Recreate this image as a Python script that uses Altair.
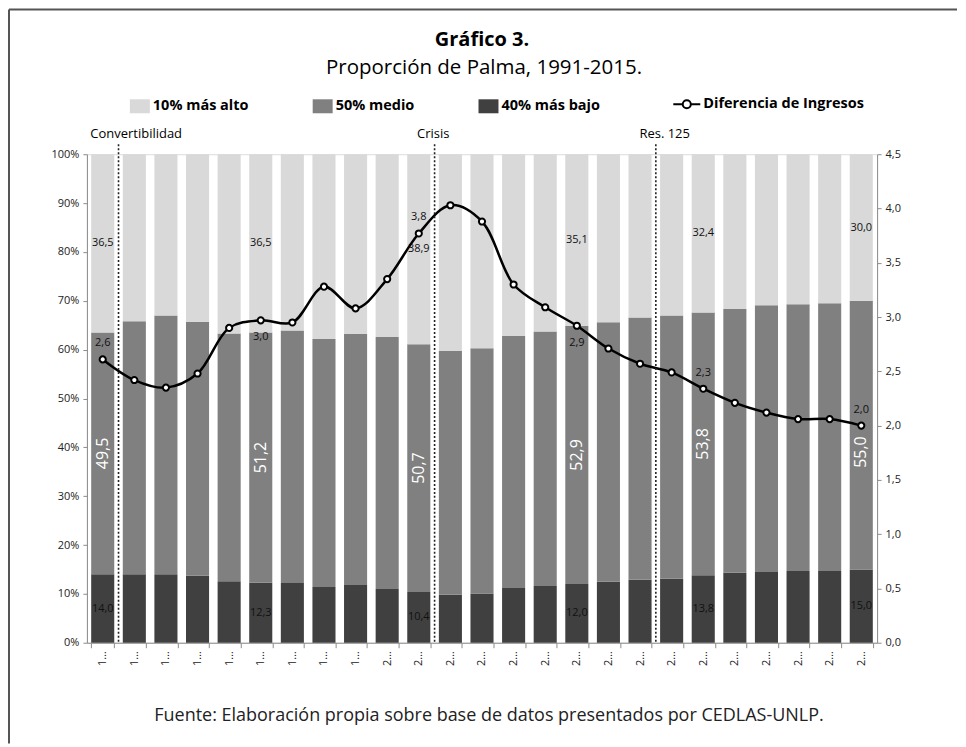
import altair as alt
import pandas as pd

# ---------------- data ----------------
years = [str(y) for y in range(1991, 2016)]
bajo = [14.0, 14.0, 14.0, 13.7, 12.6, 12.3, 12.2, 11.4, 11.8, 11.0, 10.4, 9.8, 10.1,
        11.2, 11.6, 12.0, 12.5, 12.9, 13.1, 13.8, 14.3, 14.5, 14.7, 14.7, 15.0]
alto = [36.5, 34.2, 33.0, 34.3, 36.7, 36.5, 36.1, 37.8, 36.8, 37.4, 38.9, 40.3, 39.7,
        37.2, 36.3, 35.1, 34.4, 33.4, 33.0, 32.4, 31.7, 30.9, 30.7, 30.5, 30.0]
medio = [round(100 - a - b, 1) for a, b in zip(alto, bajo)]
palma = [2.61, 2.42, 2.35, 2.48, 2.90, 2.97, 2.95, 3.28, 3.08, 3.35, 3.77, 4.03, 3.88,
         3.30, 3.09, 2.92, 2.71, 2.57, 2.49, 2.34, 2.21, 2.12, 2.06, 2.06, 2.00]

grupos = ["10% más alto", "50% medio", "40% más bajo"]
colores = ["#D9D9D9", "#808080", "#404040"]
serie_linea = "Diferencia de Ingresos"

label_idx = [0, 5, 10, 15, 19, 24]
line_above = [0, 10, 19, 24]
line_below = [5, 15]

eventos = ["Convertibilidad", "Crisis", "Res. 125"]
evento_year = ["1991", "2001", "2008"]

titulo = "Gráfico 3."
subtitulo = "Proporción de Palma, 1991-2015."
fuente = "Fuente: Elaboración propia sobre base de datos presentados por CEDLAS-UNLP."

def fmt(v):
    return f"{v:.1f}".replace(".", ",")

# ---------------- tables ----------------
rows = []
for i, y in enumerate(years):
    rows.append({"year": y, "grupo": grupos[2], "valor": bajo[i], "ord": 0})
    rows.append({"year": y, "grupo": grupos[1], "valor": medio[i], "ord": 1})
    rows.append({"year": y, "grupo": grupos[0], "valor": alto[i], "ord": 2})
df_bars = pd.DataFrame(rows)

seg_rows = []
for i in label_idx:
    seg_rows.append({"year": years[i], "idx": i, "pos": "bajo", "yc": bajo[i] / 2, "texto": fmt(bajo[i])})
    seg_rows.append({"year": years[i], "idx": i, "pos": "medio", "yc": bajo[i] + medio[i] / 2, "texto": fmt(medio[i])})
    seg_rows.append({"year": years[i], "idx": i, "pos": "alto", "yc": bajo[i] + medio[i] + alto[i] / 2, "texto": fmt(alto[i])})
df_seg = pd.DataFrame(seg_rows)

df_line = pd.DataFrame({"year": years, "palma": palma, "serie": serie_linea})
df_line["texto"] = [fmt(v) for v in palma]
df_line["idx"] = range(len(years))

df_ev = pd.DataFrame({"year": evento_year, "nombre": eventos})

W, H = 791, 489
FONT = "Open Sans"
one = alt.Data(values=[{"a": 1}])
AX = dict(tickSize=4, labelFontSize=11, labelPadding=4, domainColor="#8c8c8c",
          tickColor="#8c8c8c", labelColor="#222", grid=False, labelFont=FONT)

xenc = alt.X("year:N", title=None,
             scale=alt.Scale(paddingInner=0.27, paddingOuter=0.135),
             axis=alt.Axis(labelExpr="datum.label ? substring(datum.label, 0, 1) + '…' : ''",
                           labelAngle=270, tickBand="extent", tickSize=5, labelFontSize=11,
                           labelPadding=3, domainColor="#8c8c8c", tickColor="#8c8c8c",
                           labelColor="#222", labelFont=FONT))

pct_scale = alt.Scale(domain=[0, 100], nice=False)
pct_axis = alt.Axis(orient="left", values=list(range(0, 101, 10)),
                    labelExpr="datum.value + '%'", **AX)
bars = alt.Chart(df_bars).mark_bar().encode(
    x=xenc,
    y=alt.Y("valor:Q", stack="zero", scale=pct_scale, title=None, axis=pct_axis),
    color=alt.Color("grupo:N", scale=alt.Scale(domain=grupos, range=colores),
                    legend=alt.Legend(orient="none", legendX=43, legendY=-58, direction="horizontal",
                                      title=None, symbolType="M-1,-0.7H1V0.7H-1Z", symbolSize=400,
                                      symbolStrokeWidth=0, labelFontSize=14.5, labelFontWeight="bold",
                                      labelFont=FONT, labelColor="black", columnPadding=64,
                                      labelOffset=3, labelLimit=300)),
    order=alt.Order("ord:Q", sort="ascending"),
)

yseg = alt.Y("yc:Q", scale=pct_scale, title=None, axis=pct_axis)
seg_small = alt.Chart(df_seg).mark_text(fontSize=11, color="#111", font=FONT).encode(
    x="year:N", y=yseg, text="texto:N"
).transform_filter("datum.pos != 'medio'")

seg_mid = alt.Chart(df_seg).mark_text(fontSize=16, color="white", angle=270, font=FONT).encode(
    x="year:N", y=yseg, text="texto:N"
).transform_filter("datum.pos == 'medio' && datum.idx < 24")
seg_mid_last = alt.Chart(df_seg).mark_text(fontSize=16, color="white", angle=270, font=FONT,
                                           yOffset=17).encode(
    x="year:N", y=yseg, text="texto:N"
).transform_filter("datum.pos == 'medio' && datum.idx == 24")

left = alt.layer(bars, seg_small, seg_mid, seg_mid_last)

r_scale = alt.Scale(domain=[0, 4.5], nice=False)
r_axis = alt.Axis(orient="right", values=[i * 0.5 for i in range(10)],
                  labelExpr="replace(format(datum.value, '.1f'), '.', ',')", **AX)
yr = alt.Y("palma:Q", scale=r_scale, title=None, axis=r_axis)
line_path = ("M-1,0H-0.3 M0.3,0H1 M-0.3,0A0.3,0.3 0 1,1 0.3,0"
             "A0.3,0.3 0 1,1 -0.3,0Z")
line = alt.Chart(df_line).mark_line(interpolate="catmull-rom", strokeWidth=2.5).encode(
    x="year:N",
    y=yr,
    stroke=alt.Stroke("serie:N", scale=alt.Scale(domain=[serie_linea], range=["black"]),
                      legend=alt.Legend(orient="none", legendX=586, legendY=-64.5, title=None,
                                        symbolType=line_path, symbolSize=729, symbolStrokeWidth=2,
                                        symbolFillColor="white", symbolStrokeColor="black",
                                        labelFontSize=14.5, labelFontWeight="bold", labelFont=FONT,
                                        labelColor="black", labelOffset=2, labelLimit=300)),
)
points = alt.Chart(df_line).mark_point(filled=True, fill="white", stroke="black", strokeWidth=2,
                                       size=38, opacity=1).encode(x="year:N", y=yr)

lab_above = alt.Chart(df_line).transform_filter(
    alt.FieldOneOfPredicate(field="idx", oneOf=line_above)
).mark_text(fontSize=11, dy=-16, color="#111", font=FONT).encode(
    x="year:N", y=yr, text="texto:N")
lab_below = alt.Chart(df_line).transform_filter(
    alt.FieldOneOfPredicate(field="idx", oneOf=line_below)
).mark_text(fontSize=11, dy=17, color="#111", font=FONT).encode(
    x="year:N", y=yr, text="texto:N")

right = alt.layer(line, points, lab_above, lab_below)

step = W / 25.0
rules = alt.Chart(df_ev).mark_rule(strokeDash=[2, 2], strokeWidth=1.6, color="#222",
                                   xOffset=step / 2).encode(
    x="year:N", y=alt.value(-10), y2=alt.value(H))

ev_dx = {"Convertibilidad": 33.5, "Crisis": 14.5, "Res. 125": 24.7}
ev_texts = [
    alt.Chart(df_ev).transform_filter(alt.datum.nombre == n).mark_text(
        fontSize=13, dx=ev_dx[n], color="black", font=FONT).encode(
        x="year:N", y=alt.value(-20), text="nombre:N")
    for n in eventos
]

t1 = alt.Chart(one).mark_text(text=titulo, fontSize=20, fontWeight="bold", font=FONT,
                              color="black").encode(x=alt.value(W / 2), y=alt.value(-114))
t2 = alt.Chart(one).mark_text(text=subtitulo, fontSize=20.5, font=FONT,
                              color="black").encode(x=alt.value(W / 2 + 2), y=alt.value(-86))
t3 = alt.Chart(one).mark_text(text=fuente, fontSize=18, font=FONT,
                              color="#222").encode(x=alt.value(W / 2 + 7), y=alt.value(562))

frame_top = alt.Chart(one).mark_rule(color="#555", strokeWidth=2).encode(
    x=alt.value(-78), x2=alt.value(W + 80), y=alt.value(-145))
frame_left = alt.Chart(one).mark_rule(color="#555", strokeWidth=2).encode(
    x=alt.value(-78), y=alt.value(-145), y2=alt.value(H + 101))

chart = alt.layer(left, right, rules, *ev_texts, t1, t2, t3, frame_top, frame_left).resolve_scale(
    y="independent"
).properties(width=W, height=H, padding=0).configure_view(stroke=None).configure(
    font=FONT
)

chart.save("out.html", embed_options={"renderer": "svg", "actions": False})
